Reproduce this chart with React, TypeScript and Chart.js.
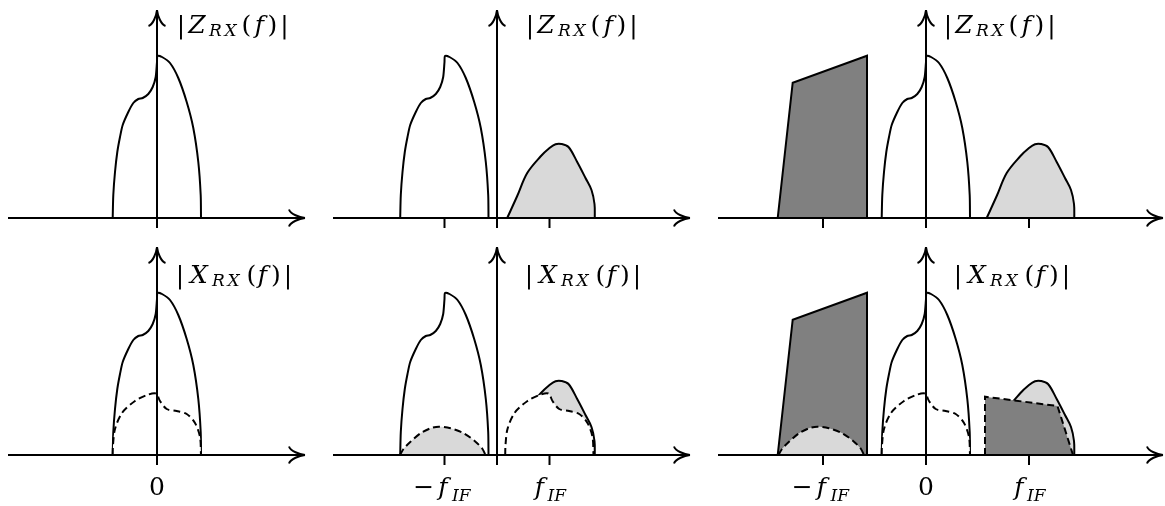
import React, { useEffect, useRef } from "react";
import { Chart, registerables } from "chart.js";

Chart.register(...registerables);

// Wanted channel: frequency offset from band centre and magnitude
const WANTED_F = [-4.43, -4.37, -4.2, -3.97, -3.7, -3.43, -2.87, -2.37, -1.87, -1.43, -0.87, -0.43, -0.13, 0.0, 0.05, 0.5, 1.3, 2.13, 2.97, 3.63, 4.13, 4.37, 4.4];
const WANTED_MAG = [0, 2.3, 4.6, 6.6, 8.1, 9.3, 10.6, 11.5, 11.9, 12.0, 12.4, 13.1, 14.1, 15.6, 16.2, 16.1, 15.5, 14.0, 11.6, 9.0, 5.6, 2.3, 0];

// Wanted channel after the mixer/filter (dashed)
const WANTED_OUT_F = [-4.43, -4.4, -4.2, -3.5, -2.2, -1.0, -0.1, 0.3, 0.97, 1.97, 2.97, 3.8, 4.3, 4.4];
const WANTED_OUT_MAG = [0, 1.0, 2.6, 4.2, 5.4, 6.0, 6.15, 5.4, 4.6, 4.4, 4.1, 3.2, 1.8, 0];

// Image band
const IMAGE_F = [-4.23, -3.23, -2.23, -0.9, 0.0, 0.6, 1.2, 1.9, 2.77, 3.6, 4.2, 4.5, 4.53];
const IMAGE_MAG = [0, 2.2, 4.5, 6.15, 7.0, 7.38, 7.4, 7.1, 5.6, 4.0, 2.8, 1.4, 0];

// Residual image leaking into the wanted band (dashed)
const LEAK_F = [-4.45, -4.1, -3.4, -2.4, -1.4, -0.57, 0.6, 1.93, 3.1, 3.8, 4.1];
const LEAK_MAG = [0, 0.6, 1.33, 2.17, 2.67, 2.83, 2.67, 2.17, 1.33, 0.6, 0];

// Strong blocker at the image frequency
const BLOCKER_F = [-4.53, -3.03, 4.4, 4.4];
const BLOCKER_MAG = [0, 13.53, 16.23, 0];

// Blocker folded onto the wanted band (dashed)
const FOLDED_F = [-4.4, -4.4, 2.85, 4.4];
const FOLDED_MAG = [0, 5.83, 4.9, 0];

// Intermediate frequency in the middle and right columns
const F_IF_MID = 5.25;
const F_IF_RIGHT = 10.3;

const LIGHT = "#d9d9d9";
const DARK = "#808080";
const WHITE = "#ffffff";

const FONT = "'DejaVu Serif'";
const BASE_SIZE = 25;
const SUB_SIZE = 17;

type Layer = { f: number[]; mag: number[]; at: number; fill: string; dashed?: boolean; tension: number };
type Glyph = [string, number, "r" | "i" | "s"];
type TickLabel = { at: number; glyphs: Glyph[] };

type PanelCfg = {
  left: number; top: number; w: number; h: number; originX: number; axisY: number;
  axisFrom: number; axisTo: number; ticks: number[];
  layers: Layer[];
  title: Glyph[]; titleX: number; titleY: number;
  tickLabels: TickLabel[];
};

const wanted = (at: number): Layer => ({ f: WANTED_F, mag: WANTED_MAG, at, fill: WHITE, tension: 0.25 });
const wantedOut = (at: number): Layer => ({ f: WANTED_OUT_F, mag: WANTED_OUT_MAG, at, fill: WHITE, dashed: true, tension: 0.3 });
const image = (at: number): Layer => ({ f: IMAGE_F, mag: IMAGE_MAG, at, fill: LIGHT, tension: 0.35 });
const leak = (at: number): Layer => ({ f: LEAK_F, mag: LEAK_MAG, at, fill: LIGHT, dashed: true, tension: 0.3 });
const blocker = (at: number): Layer => ({ f: BLOCKER_F, mag: BLOCKER_MAG, at, fill: DARK, tension: 0 });
const folded = (at: number): Layer => ({ f: FOLDED_F, mag: FOLDED_MAG, at, fill: DARK, dashed: true, tension: 0 });

const Z_TITLE: Glyph[] = [["|", 3, "r"], ["Z", 19, "i"], ["R", 37.5, "s"], ["X", 52.5, "s"], ["(", 68.5, "r"], ["f", 81.5, "i"], [")", 94.5, "r"], ["|", 106.5, "r"]];
const X_TITLE: Glyph[] = [["|", 2, "r"], ["X", 21, "i"], ["R", 40.5, "s"], ["X", 55.5, "s"], ["(", 73.5, "r"], ["f", 84.5, "i"], [")", 98, "r"], ["|", 110, "r"]];

const NEG_FIF: Glyph[] = [["\u2212", -20.7, "r"], ["f", -1.5, "i"], ["IF", 16.8, "s"]];
const POS_FIF: Glyph[] = [["f", -10.2, "i"], ["IF", 7.3, "s"]];
const ZERO: Glyph[] = [["0", 0, "r"]];

const COLS = [
  { left: 0, w: 320, originX: 157, axisFrom: -14.9, axisTo: 14.8 },
  { left: 320, w: 380, originX: 497, axisFrom: -16.4, axisTo: 19.3 },
  { left: 700, w: 465, originX: 926, axisFrom: -20.8, axisTo: 23.7 },
];
const ROWS = [
  { top: 0, h: 240, axisY: 218 },
  { top: 240, h: 266, axisY: 455 },
];

const PX = 10; // pixels per unit on both axes
const AXIS_TOP = 20.8;
const TICK = 1.0;

const mk = (c: number, r: number, rest: Partial<PanelCfg>): PanelCfg => ({
  ...COLS[c], ...ROWS[r],
  ticks: [], layers: [], title: [], titleX: 0, titleY: 0, tickLabels: [],
  ...rest,
} as PanelCfg);

const PANELS: PanelCfg[] = [
  mk(0, 0, { ticks: [0], layers: [wanted(0)], title: Z_TITLE, titleX: 2.1, titleY: 18.5 }),
  mk(1, 0, { ticks: [-F_IF_MID, F_IF_MID], layers: [wanted(-F_IF_MID), image(F_IF_MID)], title: Z_TITLE, titleX: 3.0, titleY: 18.5 }),
  mk(2, 0, { ticks: [-F_IF_RIGHT, 0, F_IF_RIGHT], layers: [blocker(-F_IF_RIGHT), wanted(0), image(F_IF_RIGHT)], title: Z_TITLE, titleX: 1.9, titleY: 18.5 }),
  mk(0, 1, {
    ticks: [0], layers: [wanted(0), wantedOut(0)], title: X_TITLE, titleX: 2.1, titleY: 17.2,
    tickLabels: [{ at: 0, glyphs: ZERO }],
  }),
  mk(1, 1, {
    ticks: [-F_IF_MID, F_IF_MID],
    layers: [wanted(-F_IF_MID), leak(-F_IF_MID), image(F_IF_MID), wantedOut(F_IF_MID)],
    title: X_TITLE, titleX: 3.0, titleY: 17.2,
    tickLabels: [{ at: -F_IF_MID, glyphs: NEG_FIF }, { at: F_IF_MID, glyphs: POS_FIF }],
  }),
  mk(2, 1, {
    ticks: [-F_IF_RIGHT, 0, F_IF_RIGHT],
    layers: [blocker(-F_IF_RIGHT), leak(-F_IF_RIGHT), wanted(0), wantedOut(0), image(F_IF_RIGHT), folded(F_IF_RIGHT)],
    title: X_TITLE, titleX: 3.0, titleY: 17.2,
    tickLabels: [{ at: -F_IF_RIGHT, glyphs: NEG_FIF }, { at: 0, glyphs: ZERO }, { at: F_IF_RIGHT, glyphs: POS_FIF }],
  }),
];

function arrowHead(ctx: CanvasRenderingContext2D, tx: number, ty: number, dx: number, dy: number) {
  const L = 16, W = 8.5;
  const px = -dy, py = dx;
  ctx.beginPath();
  for (const s of [1, -1]) {
    const bx = tx - dx * L + px * W * s, by = ty - dy * L + py * W * s;
    ctx.moveTo(bx, by);
    ctx.bezierCurveTo(
      tx - dx * L * 0.9 + px * W * 0.45 * s, ty - dy * L * 0.9 + py * W * 0.45 * s,
      tx - dx * L * 0.35 + px * W * 0.08 * s, ty - dy * L * 0.35 + py * W * 0.08 * s,
      tx, ty,
    );
  }
  ctx.stroke();
}

function drawGlyphs(ctx: CanvasRenderingContext2D, x: number, y: number, glyphs: Glyph[], subDrop: number) {
  ctx.fillStyle = "#000";
  ctx.textAlign = "center";
  ctx.textBaseline = "alphabetic";
  for (const [t, dx, style] of glyphs) {
    if (style === "r") ctx.font = `${BASE_SIZE}px ${FONT}`;
    else if (style === "i") ctx.font = `italic ${BASE_SIZE}px ${FONT}`;
    else ctx.font = `italic ${SUB_SIZE}px ${FONT}`;
    ctx.fillText(t, x + dx, y + (style === "s" ? subDrop : 0));
  }
}

function axesPlugin(cfg: PanelCfg) {
  return {
    id: "spectrumAxes",
    afterDatasetsDraw(chart: any) {
      const ctx: CanvasRenderingContext2D = chart.ctx;
      const X = (v: number) => chart.scales.x.getPixelForValue(v);
      const Y = (v: number) => chart.scales.y.getPixelForValue(v);
      ctx.save();
      ctx.setLineDash([]);
      ctx.strokeStyle = "#000";
      ctx.lineWidth = 2;
      ctx.lineCap = "butt";
      // frequency axis
      ctx.beginPath();
      ctx.moveTo(X(cfg.axisFrom), Y(0));
      ctx.lineTo(X(cfg.axisTo), Y(0));
      ctx.stroke();
      arrowHead(ctx, X(cfg.axisTo), Y(0), 1, 0);
      // magnitude axis
      ctx.beginPath();
      ctx.moveTo(X(0), Y(-TICK));
      ctx.lineTo(X(0), Y(AXIS_TOP));
      ctx.stroke();
      arrowHead(ctx, X(0), Y(AXIS_TOP), 0, -1);
      // ticks
      for (const t of cfg.ticks) {
        ctx.beginPath();
        ctx.moveTo(X(t), Y(0));
        ctx.lineTo(X(t), Y(-TICK));
        ctx.stroke();
      }
      drawGlyphs(ctx, X(cfg.titleX), Y(cfg.titleY), cfg.title, 3);
      for (const tl of cfg.tickLabels) {
        drawGlyphs(ctx, X(tl.at), Y(-4.0), tl.glyphs, 6);
      }
      ctx.restore();
    },
  };
}

function Panel({ cfg }: { cfg: PanelCfg }) {
  const ref = useRef<HTMLCanvasElement>(null);
  useEffect(() => {
    const canvas = ref.current;
    if (!canvas) return;
    const n = cfg.layers.length;
    const datasets = cfg.layers.map((L, i) => ({
      data: L.f.map((f, k) => ({ x: L.at + f, y: L.mag[k] })),
      borderColor: "#000",
      borderWidth: 2,
      borderDash: L.dashed ? [7, 4] : [],
      backgroundColor: L.fill,
      fill: "origin",
      tension: L.tension,
      pointRadius: 0,
      order: n - i,
      clip: false,
    }));
    const chart = new Chart(canvas, {
      type: "line",
      data: { datasets } as any,
      options: {
        animation: false,
        responsive: false,
        maintainAspectRatio: false,
        devicePixelRatio: 1,
        events: [],
        layout: { padding: 0 },
        scales: {
          x: {
            type: "linear", display: false,
            min: -(cfg.originX - cfg.left) / PX,
            max: (cfg.left + cfg.w - cfg.originX) / PX,
          },
          y: {
            type: "linear", display: false,
            min: -(cfg.top + cfg.h - cfg.axisY) / PX,
            max: (cfg.axisY - cfg.top) / PX,
          },
        },
        plugins: { legend: { display: false }, tooltip: { enabled: false }, title: { display: false } },
      } as any,
      plugins: [axesPlugin(cfg)],
    });
    return () => chart.destroy();
  }, [cfg]);
  return (
    <canvas
      ref={ref}
      width={cfg.w}
      height={cfg.h}
      style={{ position: "absolute", left: cfg.left, top: cfg.top, width: cfg.w, height: cfg.h }}
    />
  );
}

export default function App() {
  return (
    <div style={{ position: "absolute", left: 0, top: 0, width: 1165, height: 506, background: "#fff", overflow: "hidden" }}>
      {PANELS.map((p, i) => (
        <Panel key={i} cfg={p} />
      ))}
    </div>
  );
}
